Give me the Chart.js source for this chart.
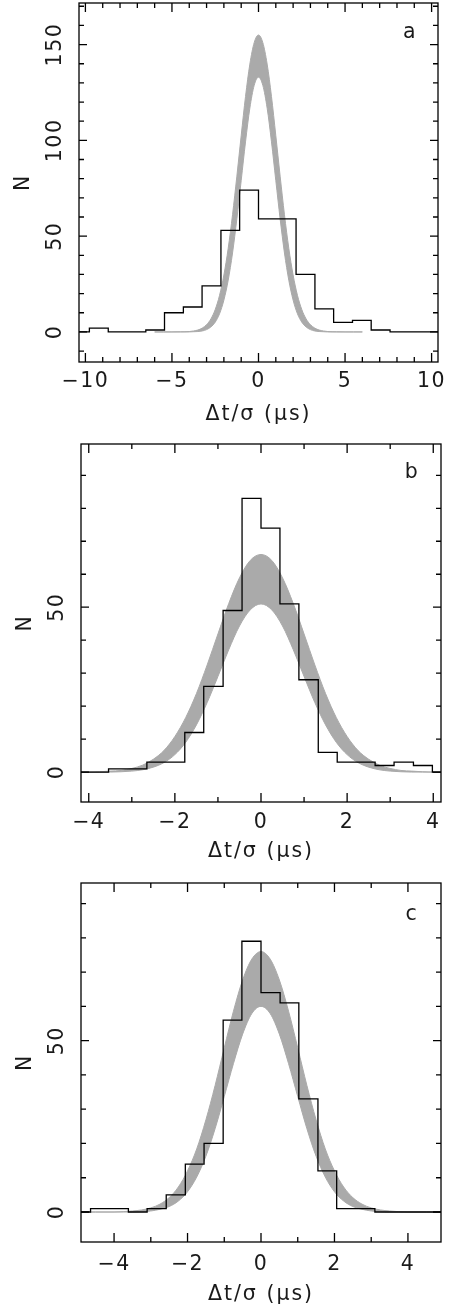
<!DOCTYPE html>
<html>
<head>
<meta charset="utf-8">
<script src="https://cdn.jsdelivr.net/npm/chart.js@4/dist/chart.umd.min.js"></script>
<style>
    html, body { margin: 0; padding: 0; background: #fff; }
    body { width: 450px; height: 1306px; position: relative; overflow: hidden; }
    .panel { position: absolute; left: 0; width: 450px; }
</style>
</head>
<body>
<div class="panel" style="top:0;height:430px"><canvas id="chart-a"></canvas></div>
<div class="panel" style="top:430px;height:434px"><canvas id="chart-b"></canvas></div>
<div class="panel" style="top:864px;height:442px"><canvas id="chart-c"></canvas></div>
<script>
const bandX = [-6, -5.5, -5, -4.5, -4, -3.75, -3.5, -3.25, -3, -2.75, -2.5, -2.25, -2, -1.75, -1.5, -1.25, -1, -0.75, -0.5, -0.25,
    0, 0.25, 0.5, 0.75, 1, 1.25, 1.5, 1.75, 2, 2.25, 2.5, 2.75, 3, 3.25, 3.5, 3.75, 4, 4.5, 5, 5.5, 6];

// panel a
const aBandUpper = [0, 0, 0, 0.05, 0.2, 0.5, 1.0, 2.0, 3.8, 6.8, 11.7, 19.1, 29.7, 43.7, 61.2, 81.3, 102.5, 122.9, 139.8, 151.0,
    155, 151.0, 139.8, 122.9, 102.5, 81.3, 61.2, 43.7, 29.7, 19.1, 11.7, 6.8, 3.8, 2.0, 1.0, 0.5, 0.2, 0.05, 0, 0, 0];
const aBandLower = [0, 0, 0, 0, 0, 0.1, 0.2, 0.5, 1.2, 2.6, 5.1, 9.5, 16.6, 27.0, 41.2, 59.0, 79.0, 99.2, 116.8, 128.7,
    133, 128.7, 116.8, 99.2, 79.0, 59.0, 41.2, 27.0, 16.6, 9.5, 5.1, 2.6, 1.2, 0.5, 0.2, 0.1, 0, 0, 0, 0, 0];
const aEdges = [-10.4, -9.77, -8.68, -7.6, -6.51, -5.43, -4.34, -3.26, -2.17, -1.09, 0, 1.09, 2.17, 3.26, 4.34,
    5.43, 6.51, 7.6, 8.68, 9.77, 10.4];
const aCounts = [0, 2, 0, 0, 1, 10, 13, 24, 53, 74, 59, 59, 30, 12, 5, 6, 1, 0, 0, 0];
const aXTicks = [-10, -9, -8, -7, -6, -5, -4, -3, -2, -1, 0, 1, 2, 3, 4, 5, 6, 7, 8, 9, 10];
const aXLabels = [-10, -5, 0, 5, 10];
const aYTicks = [-10, 0, 10, 20, 30, 40, 50, 60, 70, 80, 90, 100, 110, 120, 130, 140, 150, 160, 170];
const aYLabels = [0, 50, 100, 150];

// panel b
const bBandUpper = [0, 0, 0, 0, 0, 0.1, 0.3, 0.5, 1.1, 2.1, 3.9, 6.6, 10.8, 16.5, 23.8, 32.5, 41.9, 51.1, 58.9, 64.2,
    66, 64.2, 58.9, 51.1, 41.9, 32.5, 23.8, 16.5, 10.8, 6.6, 3.9, 2.1, 1.1, 0.5, 0.3, 0.1, 0, 0, 0, 0, 0];
const bBandLower = [0, 0, 0, 0, 0, 0, 0, 0.1, 0.3, 0.7, 1.5, 2.9, 5.3, 9.0, 14.3, 21.1, 29.0, 37.1, 44.3, 49.2,
    51, 49.2, 44.3, 37.1, 29.0, 21.1, 14.3, 9.0, 5.3, 2.9, 1.5, 0.7, 0.3, 0.1, 0, 0, 0, 0, 0, 0, 0];
const bEdges = [-4.19, -3.54, -3.09, -2.65, -2.21, -1.77, -1.33, -0.88, -0.44, 0, 0.44, 0.88, 1.33, 1.77, 2.21,
    2.65, 3.09, 3.54, 3.98, 4.19];
const bCounts = [0, 1, 1, 3, 3, 12, 26, 49, 83, 74, 51, 28, 6, 3, 3, 2, 3, 2, 0];
const bXTicks = [-4, -3, -2, -1, 0, 1, 2, 3, 4];
const bXLabels = [-4, -2, 0, 2, 4];
const bYTicks = [0, 10, 20, 30, 40, 50, 60, 70, 80, 90];
const bYLabels = [0, 50];

// panel c
const cBandUpper = [0, 0, 0, 0, 0, 0.1, 0.3, 0.6, 1.2, 2.3, 4.2, 7.3, 12.0, 18.4, 26.9, 36.9, 47.9, 58.6, 67.7, 73.8,
    76, 73.8, 67.7, 58.6, 47.9, 36.9, 26.9, 18.4, 12.0, 7.3, 4.2, 2.3, 1.2, 0.6, 0.3, 0.1, 0, 0, 0, 0, 0];
const cBandLower = [0, 0, 0, 0, 0, 0, 0, 0.1, 0.3, 0.8, 1.6, 3.2, 5.9, 10.2, 16.3, 24.3, 33.7, 43.3, 51.9, 57.9,
    60, 57.9, 51.9, 43.3, 33.7, 24.3, 16.3, 10.2, 5.9, 3.2, 1.6, 0.8, 0.3, 0.1, 0, 0, 0, 0, 0, 0, 0];
const cEdges = [-4.9, -4.64, -4.13, -3.61, -3.1, -2.58, -2.06, -1.55, -1.03, -0.52, 0, 0.52, 1.03, 1.55, 2.06,
    2.58, 3.1, 4.9];
const cCounts = [0, 1, 1, 0, 1, 5, 14, 20, 56, 79, 64, 61, 33, 12, 1, 1, 0];
const cXTicks = [-4, -3, -2, -1, 0, 1, 2, 3, 4];
const cXLabels = [-4, -2, 0, 2, 4];
const cYTicks = [0, 10, 20, 30, 40, 50, 60, 70, 80, 90];
const cYLabels = [0, 50];

const X_TITLE = 'Δt/σ (μs)';
const Y_TITLE = 'N';
const BAND = '#aaaaaa';
const FONT = '20.5px "DejaVu Sans", "Liberation Sans", sans-serif';

function fmt(v) {
    return v < 0 ? '\u2212' + Math.abs(v) : String(v);
}

function stepPoints(edges, counts) {
    const pts = counts.map((c, i) => ({ x: edges[i], y: c }));
    pts.push({ x: edges[edges.length - 1], y: counts[counts.length - 1] });
    return pts;
}

function curvePoints(xs, ys) {
    return xs.map((x, i) => ({ x: x, y: ys[i] }));
}

// box, inward ticks and all the text, placed with the chart's own scales
function framePlugin(p) {
    return {
        id: 'frame',
        afterDraw(chart) {
            const ctx = chart.ctx;
            const a = chart.chartArea;
            const xs = chart.scales.x, ys = chart.scales.y;
            ctx.save();
            ctx.strokeStyle = '#000';
            ctx.lineWidth = 1.3;
            ctx.strokeRect(a.left, a.top, a.right - a.left, a.bottom - a.top);

            ctx.beginPath();
            p.xTicks.forEach(v => {
                const px = xs.getPixelForValue(v);
                const len = p.xLabels.includes(v) ? 9 : 5;
                ctx.moveTo(px, a.bottom); ctx.lineTo(px, a.bottom - len);
                ctx.moveTo(px, a.top); ctx.lineTo(px, a.top + len);
            });
            p.yTicks.forEach(v => {
                const py = ys.getPixelForValue(v);
                const len = p.yLabels.includes(v) ? 8 : 5;
                ctx.moveTo(a.left, py); ctx.lineTo(a.left + len, py);
                ctx.moveTo(a.right, py); ctx.lineTo(a.right - len, py);
            });
            ctx.stroke();

            ctx.fillStyle = '#1a1a1a';
            ctx.font = FONT;
            ctx.letterSpacing = '1.5px';
            ctx.textAlign = 'center';
            ctx.textBaseline = 'middle';
            p.xLabels.forEach(v => {
                ctx.fillText(fmt(v), xs.getPixelForValue(v), a.bottom + p.xLabelDy);
            });
            ctx.letterSpacing = '2px';
            ctx.fillText(X_TITLE, (a.left + a.right) / 2, a.bottom + p.titleDy);

            ctx.letterSpacing = '1.5px';
            p.yLabels.forEach(v => {
                ctx.save();
                ctx.translate(a.left - 23, ys.getPixelForValue(v));
                ctx.rotate(-Math.PI / 2);
                ctx.fillText(fmt(v), 0, 0);
                ctx.restore();
            });
            ctx.save();
            ctx.translate(a.left - 55, (a.top + a.bottom) / 2);
            ctx.rotate(-Math.PI / 2);
            ctx.fillText(Y_TITLE, 0, 0);
            ctx.restore();

            ctx.fillText(p.letter, a.right + p.letterDx, a.top + p.letterDy);
            ctx.restore();
        }
    };
}

function makePanel(id, p) {
    return new Chart(document.getElementById(id), {
        type: 'line',
        data: {
            datasets: [
                {
                    data: stepPoints(p.edges, p.counts),
                    stepped: true,
                    borderColor: '#000',
                    borderWidth: 1.3,
                    pointRadius: 0,
                    fill: false
                },
                {
                    data: curvePoints(bandX, p.upper),
                    borderWidth: 1,
                    borderColor: BAND,
                    backgroundColor: BAND,
                    pointRadius: 0,
                    cubicInterpolationMode: 'monotone',
                    fill: '+1'
                },
                {
                    data: curvePoints(bandX, p.lower),
                    borderWidth: 1,
                    borderColor: BAND,
                    pointRadius: 0,
                    cubicInterpolationMode: 'monotone',
                    fill: false
                }
            ]
        },
        options: {
            responsive: true,
            maintainAspectRatio: false,
            animation: false,
            events: [],
            layout: { padding: p.pad },
            plugins: { legend: { display: false }, tooltip: { enabled: false } },
            scales: {
                x: { type: 'linear', min: p.xMin, max: p.xMax, display: false },
                y: { type: 'linear', min: p.yMin, max: p.yMax, display: false }
            }
        },
        plugins: [framePlugin(p)]
    });
}

makePanel('chart-a', {
    edges: aEdges, counts: aCounts, upper: aBandUpper, lower: aBandLower,
    xTicks: aXTicks, xLabels: aXLabels, yTicks: aYTicks, yLabels: aYLabels,
    xMin: -10.37, xMax: 10.37, yMin: -15.7, yMax: 171.7,
    pad: { left: 79, right: 12, top: 3, bottom: 68 },
    xLabelDy: 20, titleDy: 53, letter: 'a', letterDx: -28, letterDy: 30
});

makePanel('chart-b', {
    edges: bEdges, counts: bCounts, upper: bBandUpper, lower: bBandLower,
    xTicks: bXTicks, xLabels: bXLabels, yTicks: bYTicks, yLabels: bYLabels,
    xMin: -4.18, xMax: 4.18, yMin: -9.07, yMax: 99.5,
    pad: { left: 81, right: 9, top: 14, bottom: 62 },
    xLabelDy: 21, titleDy: 50, letter: 'b', letterDx: -29, letterDy: 29
});

makePanel('chart-c', {
    edges: cEdges, counts: cCounts, upper: cBandUpper, lower: cBandLower,
    xTicks: cXTicks, xLabels: cXLabels, yTicks: cYTicks, yLabels: cYLabels,
    xMin: -4.9, xMax: 4.9, yMin: -8.75, yMax: 96.0,
    pad: { left: 81, right: 9, top: 19, bottom: 64 },
    xLabelDy: 23, titleDy: 53, letter: 'c', letterDx: -29, letterDy: 32
});
</script>
</body>
</html>
